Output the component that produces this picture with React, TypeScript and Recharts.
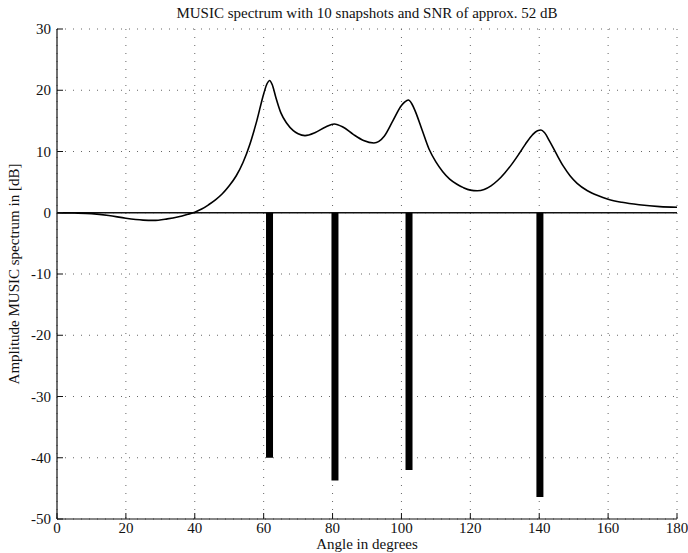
import React from 'react';
import { ComposedChart, Line, XAxis, YAxis, CartesianGrid, ReferenceLine } from 'recharts';

const curveAngles = [0, 5, 10, 15, 20, 25, 28, 32, 35, 38, 40, 42, 44, 46, 48, 50, 52, 54, 56, 58, 60, 61, 61.7, 62.5, 63.5, 65, 66.7, 68.6, 70, 72, 75, 78, 80.5, 83, 86, 89, 92, 95, 97.5, 100, 101, 102, 103, 104, 106, 108, 110, 112, 114, 116, 118, 120, 122, 124, 126, 128, 130, 132, 134, 136, 138, 139.5, 140.5, 141.5, 143, 145, 147, 149, 151, 154, 157, 160, 164, 169, 175, 180];
const curveValues = [0, -0.05, -0.15, -0.45, -0.9, -1.2, -1.25, -1.0, -0.7, -0.25, 0.1, 0.6, 1.3, 2.1, 3.1, 4.4, 6.0, 8.2, 11.2, 15.0, 19.4, 21.1, 21.6, 20.9, 18.9, 16.3, 14.6, 13.4, 12.9, 12.6, 13.1, 14.0, 14.5, 14.0, 12.8, 11.8, 11.4, 12.5, 15.0, 17.5, 18.1, 18.4, 17.8, 16.6, 13.5, 10.4, 8.3, 6.7, 5.5, 4.7, 4.1, 3.7, 3.6, 3.8, 4.4, 5.3, 6.5, 7.9, 9.5, 11.2, 12.7, 13.4, 13.5, 13.1, 11.7, 9.6, 7.6, 6.0, 4.8, 3.6, 2.8, 2.2, 1.7, 1.3, 1.0, 0.9];

const stemAngles = [61.7, 80.7, 102.2, 140.2];
const stemValues = [-40, -43.7, -42, -46.4];

const xTicks = [0, 20, 40, 60, 80, 100, 120, 140, 160, 180];
const yTicks = [-50, -40, -30, -20, -10, 0, 10, 20, 30];

const titleText = 'MUSIC spectrum with 10 snapshots and SNR of approx. 52 dB';
const xLabel = 'Angle in degrees';
const yLabel = 'Amplitude MUSIC spectrum in [dB]';

const rows = curveAngles.map((a, i) => ({ angle: a, music: curveValues[i] }));

const FONT = '"Liberation Serif", "Times New Roman", serif';
const TICK_FS = 15;
const TL = 6;

const LeftTick = (props: any) => {
  const { x, y, payload } = props;
  return (
    <g>
      <text x={x} y={y} dy={5} textAnchor="end" fontFamily={FONT} fontSize={TICK_FS} fill="#111">{payload.value}</text>
      <line x1={x + 6} x2={x + 6 + TL} y1={y} y2={y} stroke="#111" strokeWidth={1} />
    </g>
  );
};
const BottomTick = (props: any) => {
  const { x, y, payload } = props;
  return (
    <g>
      <text x={x} y={y} dy={11} textAnchor="middle" fontFamily={FONT} fontSize={TICK_FS} fill="#111">{payload.value}</text>
      <line x1={x} x2={x} y1={y - 3} y2={y - 3 - TL} stroke="#111" strokeWidth={1} />
    </g>
  );
};
const TopTick = (props: any) => {
  const { x, y } = props;
  return <line x1={x} x2={x} y1={y} y2={y + TL} stroke="#111" strokeWidth={1} />;
};
const RightTick = (props: any) => {
  const { x, y } = props;
  return <line x1={x} x2={x - TL} y1={y} y2={y} stroke="#111" strokeWidth={1} />;
};

export default function App() {
  return (
    <div style={{ position: 'absolute', left: 0, top: 0, width: 688, height: 553, overflow: 'visible', fontFamily: FONT, background: '#fff' }}>
      <ComposedChart width={688} height={553} data={rows} margin={{ top: 29, right: 11, left: 0, bottom: 0 }} style={{ overflow: 'visible' }}>
        <CartesianGrid stroke="#666" strokeDasharray="1 7" verticalValues={xTicks} horizontalValues={yTicks} />
        <XAxis xAxisId={0} dataKey="angle" type="number" domain={[0, 180]} ticks={xTicks} interval={0} height={34} tickSize={0} tickMargin={3} tick={<BottomTick />} axisLine={{ stroke: '#111', strokeWidth: 1.2 }} tickLine={false} allowDataOverflow />
        <XAxis xAxisId="top" orientation="top" dataKey="angle" type="number" domain={[0, 180]} ticks={xTicks} interval={0} height={0} tickSize={0} tickMargin={0} tick={<TopTick />} axisLine={{ stroke: '#111', strokeWidth: 1.2 }} tickLine={false} allowDataOverflow />
        <YAxis yAxisId={0} type="number" domain={[-50, 30]} ticks={yTicks} interval={0} width={57} tickSize={0} tickMargin={6} tick={<LeftTick />} axisLine={{ stroke: '#111', strokeWidth: 1.2 }} tickLine={false} allowDataOverflow />
        <YAxis yAxisId="right" orientation="right" type="number" domain={[-50, 30]} ticks={yTicks} interval={0} width={0} tickSize={0} tickMargin={0} tick={<RightTick />} axisLine={{ stroke: '#111', strokeWidth: 1.2 }} tickLine={false} allowDataOverflow />
        <ReferenceLine y={0} stroke="#111" strokeWidth={1.5} />
        {stemAngles.map((a, i) => (
          <ReferenceLine key={`stem-${i}`} segment={[{ x: a, y: 0 }, { x: a, y: stemValues[i] }]} stroke="#000" strokeWidth={7} />
        ))}
        <Line dataKey="music" type="monotone" stroke="#000" strokeWidth={1.6} dot={false} connectNulls isAnimationActive={false} />
      </ComposedChart>
      <div style={{ position: 'absolute', left: 67, width: 600, top: 5, lineHeight: '17px', textAlign: 'center', fontSize: 15, color: '#111', whiteSpace: 'nowrap' }}>{titleText}</div>
      <div style={{ position: 'absolute', left: 67, width: 600, top: 537, height: 16, lineHeight: '15px', textAlign: 'center', fontSize: 15, color: '#111', whiteSpace: 'nowrap' }}>{xLabel}</div>
      <div style={{ position: 'absolute', left: 14 - 175, width: 350, top: 274 - 9, height: 18, lineHeight: '18px', textAlign: 'center', fontSize: 15, color: '#111', whiteSpace: 'nowrap', transform: 'rotate(-90deg)', transformOrigin: 'center' }}>{yLabel}</div>
    </div>
  );
}
